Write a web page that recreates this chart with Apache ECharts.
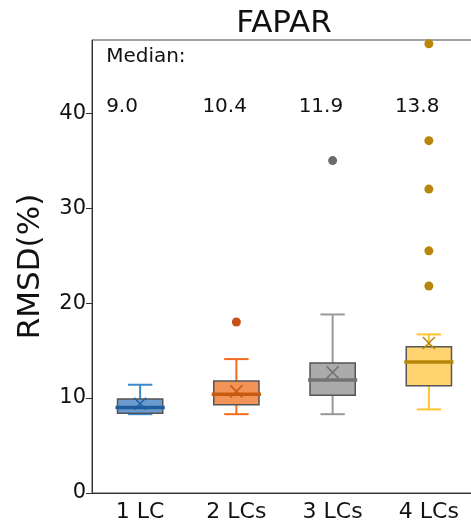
<!DOCTYPE html>
<html>
<head>
<meta charset="utf-8">
<script src="https://cdn.jsdelivr.net/npm/echarts@6/dist/echarts.min.js"></script>
<style>html,body{margin:0;padding:0;background:#fff;}#c{width:471px;height:523px;}</style>
</head>
<body>
<div id="c"></div>
<script>
const categories = ['1 LC', '2 LCs', '3 LCs', '4 LCs'];
const whiskerLow = [8.3, 8.3, 8.3, 8.8];
const q1 = [8.4, 9.3, 10.3, 11.3];
const median = [9.0, 10.4, 11.9, 13.8];
const q3 = [9.9, 11.8, 13.7, 15.4];
const whiskerHigh = [11.4, 14.1, 18.8, 16.7];
const means = [9.4, 10.7, 12.7, 15.8];
const outliers = [[], [18.0], [35.0], [47.3, 37.1, 32.0, 25.5, 21.8]];
const medianLabels = ['9.0', '10.4', '11.9', '13.8'];
const yTicks = [0, 10, 20, 30, 40];

const fillColors = ['#6a9bcf', '#f29357', '#ababab', '#ffd470'];
const whiskerColors = ['#3a88cc', '#f26c1e', '#999999', '#ffc42e'];
const medianColors = ['#1f5d9c', '#c95a12', '#737373', '#b8860b'];
const outlierColors = ['#1f5d9c', '#c8501a', '#6b6b6b', '#b8860b'];

const FONT = 'DejaVu Sans';

const boxData = categories.map((c, i) => [i, whiskerLow[i], q1[i], median[i], q3[i], whiskerHigh[i], means[i]]);

function renderBox(params, api) {
  const i = api.value(0);
  const band = api.size([1, 0])[0];
  const boxW = band * 0.47;
  const capW = boxW * 0.54;
  const pLow = api.coord([i, api.value(1)]);
  const pQ1 = api.coord([i, api.value(2)]);
  const pMed = api.coord([i, api.value(3)]);
  const pQ3 = api.coord([i, api.value(4)]);
  const pHigh = api.coord([i, api.value(5)]);
  const pMean = api.coord([i, api.value(6)]);
  const cx = pMed[0];
  const wc = whiskerColors[i], mc = medianColors[i];
  const line = (x1, y1, x2, y2, color, w) => ({
    type: 'line', shape: {x1, y1, x2, y2}, style: {stroke: color, lineWidth: w}
  });
  const xs = 6;
  return {
    type: 'group',
    children: [
      line(cx, pLow[1], cx, pQ1[1], wc, 2),
      line(cx, pQ3[1], cx, pHigh[1], wc, 2),
      line(cx - capW / 2, pLow[1], cx + capW / 2, pLow[1], wc, 2),
      line(cx - capW / 2, pHigh[1], cx + capW / 2, pHigh[1], wc, 2),
      {type: 'rect', shape: {x: cx - boxW / 2, y: pQ3[1], width: boxW, height: pQ1[1] - pQ3[1]},
       style: {fill: fillColors[i], stroke: '#555555', lineWidth: 1.5}},
      line(cx - boxW / 2 - 2, pMed[1], cx + boxW / 2 + 2, pMed[1], mc, 3.5),
      line(cx - xs, pMean[1] - xs, cx + xs, pMean[1] + xs, mc, 1.5),
      line(cx - xs, pMean[1] + xs, cx + xs, pMean[1] - xs, mc, 1.5)
    ]
  };
}

const outlierSeries = outliers.map((arr, i) => ({
  type: 'scatter',
  symbol: 'circle',
  symbolSize: 9,
  itemStyle: {color: outlierColors[i], opacity: 1},
  data: arr.map(v => [i, v]),
  z: 5
}));

const labelData = medianLabels.map((t, i) => [i, 40.7, t]);
labelData.push([0, 45.9, 'Median:']);

const chart = echarts.init(document.getElementById('c'));
chart.setOption({
  animation: false,
  backgroundColor: '#ffffff',
  graphic: [{
    type: 'text', x: 284, y: 8,
    style: {text: 'FAPAR', font: '31px "' + FONT + '"', fill: '#111', textAlign: 'center', textVerticalAlign: 'top'}
  }],
  grid: {left: 92, width: 385, top: 40, bottom: 30, show: true, borderColor: '#444', borderWidth: 1,
         containLabel: false, outerBoundsMode: 'none'},
  xAxis: {
    type: 'category', data: categories, boundaryGap: true,
    axisLine: {lineStyle: {color: '#333', width: 1}},
    axisTick: {alignWithLabel: true, length: 6, lineStyle: {color: '#333'}},
    axisLabel: {fontFamily: FONT, fontSize: 22, color: '#111', margin: 8},
    splitLine: {show: false}
  },
  yAxis: {
    type: 'value', min: 0, max: 47.7, interval: 10,
    name: 'RMSD(%)', nameLocation: 'middle', nameGap: 46,
    nameTextStyle: {fontFamily: FONT, fontSize: 31, color: '#111'},
    axisLine: {show: true, lineStyle: {color: '#333', width: 1}},
    axisTick: {show: true, length: 6, customValues: yTicks, lineStyle: {color: '#333'}},
    axisLabel: {fontFamily: FONT, fontSize: 21, color: '#111', margin: 6, customValues: yTicks},
    splitLine: {show: false}
  },
  series: [
    {
      type: 'custom', renderItem: renderBox, data: boxData,
      encode: {x: 0, y: [1, 2, 3, 4, 5, 6]}, z: 3
    },
    ...outlierSeries,
    {
      type: 'custom', data: labelData, z: 6,
      encode: {x: 0, y: 1},
      renderItem: function (params, api) {
        const p = api.coord([api.value(0), api.value(1)]);
        return {
          type: 'text', x: p[0] - 34, y: p[1],
          style: {text: labelData[params.dataIndex][2], font: '20px "' + FONT + '"', fill: '#111',
                  textAlign: 'left', textVerticalAlign: 'middle'}
        };
      }
    }
  ]
});
</script>
</body>
</html>
